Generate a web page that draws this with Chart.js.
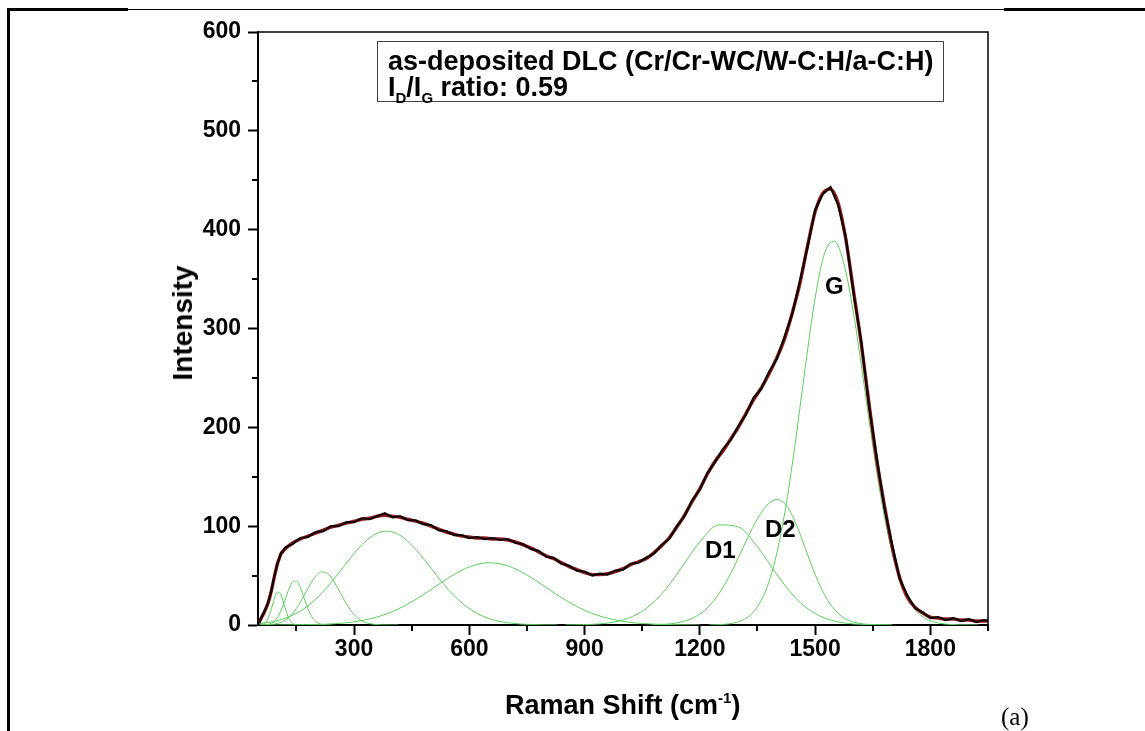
<!DOCTYPE html>
<html>
<head>
<meta charset="utf-8">
<script src="https://cdn.jsdelivr.net/npm/chart.js@4.4.1/dist/chart.umd.min.js"></script>
<style>
html, body { margin: 0; padding: 0; background: #fff; }
#wrap { position: relative; width: 1145px; height: 731px; overflow: hidden; font-family: "Liberation Sans", Arial, sans-serif; }
#raman { position: absolute; left: 0; top: 0; }
.ln { position: absolute; background: #000; }
.txt { position: absolute; white-space: nowrap; font-weight: bold; color: #000; line-height: 1; }
.box { position: absolute; left: 377px; top: 41px; width: 565px; height: 59px; border: 1px solid #444; }
.box div { position: absolute; left: 10px; font-size: 27px; font-weight: bold; white-space: nowrap; line-height: 1; }
sub { font-size: 15px; vertical-align: -7px; }
sup { font-size: 15px; vertical-align: 11px; }
</style>
</head>
<body>
<div id="wrap">
  <canvas id="raman" width="1145" height="731"></canvas>
  <div class="ln" style="left:7px;top:8px;width:3px;height:723px"></div>
  <div class="ln" style="left:7px;top:8px;width:121px;height:3px"></div>
  <div class="ln" style="left:128px;top:9px;width:876px;height:1px"></div>
  <div class="ln" style="left:1004px;top:8px;width:141px;height:3px"></div>

  <div class="box">
    <div style="top:6px">as-deposited DLC (Cr/Cr-WC/W-C:H/a-C:H)</div>
    <div style="top:32px">I<sub>D</sub>/I<sub>G</sub> ratio: 0.59</div>
  </div>

  <div class="txt" style="font-size:28px;left:183px;top:323px;transform:translate(-50%,-50%) rotate(-90deg);">Intensity</div>
  <div class="txt" style="font-size:27px;left:505px;top:690px;">Raman Shift (cm<sup>-1</sup>)</div>

  <div class="txt" style="font-size:24px;left:705px;top:538px;">D1</div>
  <div class="txt" style="font-size:24px;left:765px;top:517px;">D2</div>
  <div class="txt" style="font-size:24px;left:825px;top:274px;">G</div>

  <div class="txt" style="font-family:'Liberation Serif','Times New Roman',serif;font-weight:normal;font-size:25px;left:1001px;top:704px;">(a)</div>
</div>

<script>
// tick labels
let xTicks = [300, 600, 900, 1200, 1500, 1800];
let xMinor = [150, 450, 750, 1050, 1350, 1650, 1950];
let yTicks = [0, 100, 200, 300, 400, 500, 600];
let yMinor = [50, 150, 250, 350, 450, 550];

// measured spectrum (black) and cumulative fit (red)
let specX = [52, 56, 60, 65, 70, 75, 80, 85, 90, 95, 100, 105, 110, 115, 120,
  140, 160, 180, 200, 220, 240, 260, 280, 300, 320,
  340, 360, 380, 400, 420, 440, 460, 480, 500, 520,
  540, 560, 580, 600, 620, 640, 660, 680, 700, 720,
  740, 760, 780, 800, 820, 840, 860, 880, 900, 920,
  940, 960, 980, 1000, 1020, 1040, 1060, 1080, 1100, 1120,
  1140, 1160, 1180, 1200, 1220, 1240, 1260, 1280, 1300, 1320,
  1340, 1360, 1380, 1400, 1420, 1440, 1460, 1480, 1500, 1520,
  1540, 1560, 1580, 1600, 1620, 1640, 1660, 1680, 1700, 1720,
  1740, 1760, 1780, 1800, 1820, 1840, 1860, 1880, 1900, 1920,
  1940, 1950];
let measured = [2, 5, 9, 12, 17, 21, 28, 35, 45, 53, 62, 67, 73, 74, 78,
  82, 88, 89, 94, 95, 100, 100, 104, 104, 108,
  107, 110, 113, 109, 110, 106, 106, 102, 101, 96,
  95, 91, 91, 88, 89, 87, 88, 86, 87, 83,
  82, 77, 75, 69, 68, 62, 60, 55, 54, 50,
  52, 51, 55, 56, 62, 63, 68, 72, 81, 87,
  100, 110, 126, 137, 154, 165, 178, 187, 201, 213,
  230, 239, 256, 269, 291, 314, 347, 382, 420, 436,
  443, 425, 392, 336, 287, 223, 170, 120, 82, 47,
  30, 17, 13, 7, 8, 5, 7, 4, 6, 3,
  5, 4];
let fitSum = [2, 5, 8, 12, 16, 21, 27, 35, 44, 53, 61, 67, 72, 75, 77,
  83, 87, 90, 93, 96, 99, 101, 103, 105, 107,
  108, 110, 111, 110, 109, 107, 105, 103, 100, 97,
  94, 92, 90, 89, 88, 88, 87, 87, 86, 84,
  81, 78, 74, 70, 67, 63, 59, 56, 53, 51,
  51, 52, 54, 57, 61, 64, 67, 73, 80, 88,
  99, 111, 125, 138, 153, 166, 176, 188, 200, 214,
  228, 240, 254, 270, 289, 315, 345, 383, 418, 437,
  441, 427, 390, 338, 285, 225, 168, 122, 80, 48,
  28, 18, 12, 8, 7, 6, 6, 5, 5, 4,
  4, 4];

// fitted component peaks (green)
let p1X = [55, 60, 70, 80, 90, 100, 110, 120, 130, 140, 150, 160, 170];
let p1Y = [0.2, 0.6, 3.0, 10.5, 23.4, 33.3, 30.5, 17.9, 6.7, 1.6, 0.3, 0, 0];
let p2X = [55, 60, 70, 80, 90, 100, 110, 120, 130, 140, 150, 160, 170, 180, 190, 200, 210, 220, 230, 240];
let p2Y = [0, 0.1, 0.3, 1.0, 3.0, 7.2, 14.6, 25.0, 36.0, 43.6, 44.4, 38.0, 27.3, 16.5, 8.4, 3.6, 1.3, 0.4, 0.1, 0];
let p3X = [55, 75, 95, 115, 135, 155, 175, 195, 215, 235, 255, 275, 295, 315, 335, 355, 375, 395, 415];
let p3Y = [0.1, 0.3, 1.2, 3.7, 9.5, 19.6, 33.5, 46.8, 53.8, 50.7, 39.2, 24.9, 13.0, 5.5, 1.9, 0.6, 0.1, 0, 0];
let p4X = [55, 80, 110, 140, 170, 200, 230, 260, 290, 320, 350, 380, 410, 440, 470, 500, 530, 560, 590, 620, 650, 680, 710, 740, 770, 800, 830];
let p4Y = [1.5, 2.8, 5.4, 9.8, 16.5, 26.0, 38.3, 52.6, 67.5, 81.0, 90.7, 94.9, 92.8, 84.7, 72.3, 57.6, 42.9, 29.8, 19.4, 11.8, 6.7, 3.5, 1.8, 0.8, 0.4, 0.1, 0];
let p5X = [55, 100, 150, 200, 250, 300, 350, 400, 450, 500, 550, 600, 650, 700, 750, 800, 850, 900, 950, 1000, 1050, 1100, 1150, 1200];
let p5Y = [0, 0, 0.2, 0.5, 1.3, 3.2, 7.0, 13.6, 23.4, 35.8, 48.7, 58.8, 63.0, 59.9, 50.6, 37.9, 25.3, 14.9, 7.9, 3.7, 1.5, 0.6, 0.2, 0];
let d1X = [850, 900, 950, 1000, 1050, 1100, 1150, 1200, 1250, 1300, 1350, 1400, 1450, 1500, 1550, 1600, 1650, 1700];
let d1Y = [0.1, 0.4, 1.5, 5.1, 13.9, 31.2, 56.8, 84.1, 101.3, 99.2, 79.1, 51.2, 27.0, 11.6, 4.0, 1.1, 0.3, 0];
let d2X = [1075, 1100, 1125, 1150, 1175, 1200, 1225, 1250, 1275, 1300, 1325, 1350, 1375, 1400, 1425, 1450, 1475, 1500, 1525, 1550, 1575, 1600, 1625, 1650, 1675, 1700];
let d2Y = [0.2, 0.6, 1.3, 2.9, 5.9, 11.1, 19.5, 31.9, 48.2, 67.8, 88.7, 107.6, 121.3, 126.9, 121.2, 102.6, 77.0, 51.2, 30.2, 15.8, 7.3, 3.0, 1.1, 0.4, 0.1, 0];
let gX = [1225, 1250, 1275, 1300, 1325, 1350, 1375, 1400, 1425, 1450, 1475, 1500, 1525, 1550, 1575, 1600, 1625, 1650, 1675, 1700, 1725, 1750, 1775, 1800, 1825, 1850, 1875, 1900, 1925];
let gY = [0.1, 0.4, 1.1, 3.2, 8.0, 18.5, 38.4, 72.2, 122.7, 188.8, 262.7, 330.7, 376.7, 388.3, 365.5, 315.5, 249.8, 181.4, 120.8, 73.8, 41.3, 21.2, 10.0, 4.3, 1.7, 0.6, 0.2, 0.1, 0];

function pts(xs, ys) {
  return xs.map((x, i) => ({ x: x, y: ys[i] }));
}

const GREEN = '#5ccf5c';
function peak(xs, ys) {
  return { data: pts(xs, ys), borderColor: GREEN, borderWidth: 1, pointRadius: 0, cubicInterpolationMode: 'monotone', fill: false };
}

// plot frame (top/right) and minor ticks
const frameAndMinor = {
  id: 'frameAndMinor',
  afterDraw(chart) {
    const ctx = chart.ctx, a = chart.chartArea;
    const x = chart.scales.x, y = chart.scales.y;
    ctx.save();
    ctx.strokeStyle = '#000';
    ctx.lineWidth = 1.5;
    ctx.beginPath();
    ctx.moveTo(a.left, a.top);
    ctx.lineTo(a.right, a.top);
    ctx.lineTo(a.right, a.bottom);
    ctx.stroke();
    ctx.lineWidth = 2;
    ctx.beginPath();
    xMinor.forEach(v => {
      const p = Math.round(x.getPixelForValue(v));
      ctx.moveTo(p, a.bottom);
      ctx.lineTo(p, a.bottom + 6);
    });
    yMinor.forEach(v => {
      const p = Math.round(y.getPixelForValue(v));
      ctx.moveTo(a.left, p);
      ctx.lineTo(a.left - 6, p);
    });
    ctx.stroke();
    ctx.restore();
  }
};

const tickFont = { family: '"Liberation Sans", Arial, sans-serif', size: 23, weight: 'bold' };

new Chart('raman', {
  type: 'line',
  data: {
    datasets: [
      { data: pts(specX, measured), borderColor: '#120303', borderWidth: 2.2, pointRadius: 0, tension: 0, fill: false },
      { data: pts(specX, fitSum), borderColor: '#9a2222', borderWidth: 3.4, pointRadius: 0, cubicInterpolationMode: 'monotone', fill: false },
      peak(p1X, p1Y),
      peak(p2X, p2Y),
      peak(p3X, p3Y),
      peak(p4X, p4Y),
      peak(p5X, p5Y),
      peak(d1X, d1Y),
      peak(d2X, d2Y),
      peak(gX, gY)
    ]
  },
  options: {
    responsive: false,
    animation: false,
    events: [],
    layout: { padding: { left: 158, top: 32, right: 157, bottom: 0 } },
    plugins: { legend: { display: false }, tooltip: { enabled: false } },
    scales: {
      x: {
        type: 'linear', min: 50, max: 1950,
        afterBuildTicks: s => { s.ticks = xTicks.map(v => ({ value: v })); },
        afterFit: s => { s.height = 106; },
        ticks: { font: tickFont, color: '#000', padding: 1, maxRotation: 0, callback: v => String(v) },
        grid: { drawOnChartArea: false, tickLength: 10, tickColor: '#000', tickWidth: 2 },
        border: { color: '#000', width: 2 }
      },
      y: {
        type: 'linear', min: 0, max: 600,
        afterBuildTicks: s => { s.ticks = yTicks.map(v => ({ value: v })); },
        afterFit: s => { s.width = 100; },
        ticks: { font: tickFont, color: '#000', padding: 7, callback: v => String(v) },
        grid: { drawOnChartArea: false, tickLength: 10, tickColor: '#000', tickWidth: 2 },
        border: { color: '#000', width: 2 }
      }
    }
  },
  plugins: [frameAndMinor]
});
</script>
</body>
</html>
